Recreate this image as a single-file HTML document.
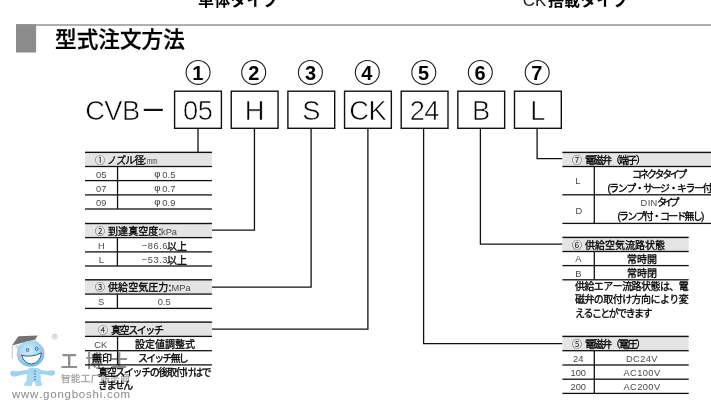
<!DOCTYPE html>
<html lang="ja"><head><meta charset="utf-8"><title>型式注文方法</title><style>
html,body{margin:0;padding:0;background:#fff}
#page{will-change:transform;position:relative;width:711px;height:414px;overflow:hidden;background:#fff;font-family:"Liberation Sans",sans-serif;font-kerning:none}
.b{position:absolute;box-sizing:border-box}
.t{position:absolute;white-space:nowrap;line-height:1.2;font-family:"Liberation Sans",sans-serif}
.g{position:absolute;overflow:visible;display:block}
.g text{font-family:"Liberation Sans","Noto Sans CJK JP",sans-serif}
.g text.sc{font-family:"Liberation Sans","Noto Sans CJK SC",sans-serif}
</style></head>
<body><div id="page">
<svg class="g" style="left:0;top:326px" width="70" height="70" viewBox="0 326 70 70" aria-hidden="true">
<g transform="translate(-0.8 0.6)"><defs><radialGradient id="hd" cx="45%" cy="40%" r="65%"><stop offset="0" stop-color="#d6f0fc"/><stop offset="0.6" stop-color="#9fd6f3"/><stop offset="1" stop-color="#5fb4e4"/></radialGradient></defs>
<path d="M13 345V358" stroke="#aaa" stroke-width="0.7" fill="none"/>
<path d="M14.5 345.6L36.5 339.2L40.5 342.5L19 349Z" fill="#dcdcdc"/>
<path d="M12.7 345L19.2 335.7L38.4 334.9L36.2 339Z" fill="#737373"/>
<path d="M29.5 369.5C24 369 19 371.500 15.500 370.500C12 369 10 372 11.500 374.500C13 377 17 376 20 375C24 373.500 27 373.500 29.500 373.500Z" fill="#9bd3f1"/>
<path d="M39.5 369.500C44 369 48 371 51 370C54.500 368.500 57 371 55.500 373.500C54 376 50.500 375 48 374.200C45 373.300 42 373.500 39.500 373.500Z" fill="#9bd3f1"/>
<path d="M28.500 368.500Q34.500 366 41 368.500L41.800 381C43.500 383.500 43 385.500 40 385.500L36.500 385.400L35.600 381.500L33.500 381.500L32.500 385.400L27 385.500C24 385.500 24.500 383 27 381Z" fill="#a6d9f4"/>
<path d="M34.6 370.500h2.200M34.600 373.300h2.200M34.600 376.100h2.200M34.600 378.900h2.200" stroke="#4a86b0" stroke-width="0.9" fill="none"/>
<ellipse cx="31.4" cy="353.2" rx="13.9" ry="13" fill="url(#hd)"/>
<circle cx="20.9" cy="354.6" r="2" fill="#f5a3c0" opacity="0.9"/><circle cx="42.6" cy="352" r="2" fill="#f5a3c0" opacity="0.9"/>
<ellipse cx="28.4" cy="349.4" rx="1.4" ry="1.7" fill="#9bd3f1" stroke="#2d4f75" stroke-width="0.7"/>
<ellipse cx="37.4" cy="348.2" rx="1.4" ry="1.7" fill="#9bd3f1" stroke="#2d4f75" stroke-width="0.7"/>
<path d="M22.400 354.600Q32 357.300 42.300 352.300Q41 362.300 32.400 363.400Q24.800 363 22.400 354.600Z" fill="#fff" stroke="#2a5f92" stroke-width="1" stroke-linejoin="round"/>
</g><circle cx="54.7" cy="336.7" r="2.5" fill="none" stroke="#9a9a9a" stroke-width="0.5"/>
<path d="M53.900 338V335.400H55Q55.700 335.500 55.600 336.100Q55.500 336.700 54.900 336.700H53.900M54.900 336.700L55.700 338" fill="none" stroke="#9a9a9a" stroke-width="0.4"/>
</svg>
<svg class="g" style="left:60.4px;top:349.8px" width="69.6" height="20.4" viewBox="0 -17 69.6 20.4" role="img" aria-label="工博士"><title>工博士</title><text class="sc" x="0.8" y="0" font-size="17" font-weight="bold" fill="#8a8a8a" opacity="0.95" letter-spacing="8">工博士</text></svg>
<svg class="g" style="left:61px;top:372.8px" width="69.8" height="11.3" viewBox="0 -9.4 69.8 11.3" role="img" aria-label="智能工厂服务商"><title>智能工厂服务商</title><text class="sc" x="0" y="0" font-size="9.6" font-weight="bold" fill="#ababab" textLength="68.8">智能工厂服务商</text></svg>
<span class="t " style="left:12px;top:388px;font-size:11.5px;color:#8a8a8a;letter-spacing:0.75px;">www.gongboshi.com</span>
<svg class="g" style="left:0;top:0" width="711" height="414" viewBox="0 0 711 414" aria-hidden="true"><rect x="16" y="24.3" width="695" height="1.4" fill="#8e8e8e"/><rect x="16" y="24.3" width="20.1" height="28.2" fill="#8c8c8c"/><rect x="143.8" y="108.8" width="19" height="2.2" fill="#111"/><rect x="174.6" y="91.2" width="46.8" height="37.1" fill="none" stroke="#111" stroke-width="1.4"/><circle cx="198.1" cy="72.4" r="11.95" fill="none" stroke="#1a1a2a" stroke-width="1.1"/><text x="197.8" y="79.7" font-size="20" font-weight="bold" fill="#000" text-anchor="middle">1</text><rect x="231.25" y="91.2" width="46.8" height="37.1" fill="none" stroke="#111" stroke-width="1.4"/><circle cx="253.7" cy="72.4" r="11.95" fill="none" stroke="#1a1a2a" stroke-width="1.1"/><rect x="287.9" y="91.2" width="46.8" height="37.1" fill="none" stroke="#111" stroke-width="1.4"/><circle cx="310.4" cy="72.4" r="11.95" fill="none" stroke="#1a1a2a" stroke-width="1.1"/><rect x="344.55" y="91.2" width="46.8" height="37.1" fill="none" stroke="#111" stroke-width="1.4"/><circle cx="367.3" cy="72.4" r="11.95" fill="none" stroke="#1a1a2a" stroke-width="1.1"/><rect x="401.2" y="91.2" width="46.8" height="37.1" fill="none" stroke="#111" stroke-width="1.4"/><circle cx="423.8" cy="72.4" r="11.95" fill="none" stroke="#1a1a2a" stroke-width="1.1"/><rect x="457.85" y="91.2" width="46.8" height="37.1" fill="none" stroke="#111" stroke-width="1.4"/><circle cx="480.3" cy="72.4" r="11.95" fill="none" stroke="#1a1a2a" stroke-width="1.1"/><rect x="514.5" y="91.2" width="46.8" height="37.1" fill="none" stroke="#111" stroke-width="1.4"/><circle cx="537.2" cy="72.4" r="11.95" fill="none" stroke="#1a1a2a" stroke-width="1.1"/><rect x="197.35" y="128.5" width="1.3" height="23.8" fill="#111"/><path d="M254.45 128.5V230.2H211.9" fill="none" stroke="#111" stroke-width="1.3"/><path d="M311.1 128.5V287.1H211.9" fill="none" stroke="#111" stroke-width="1.3"/><path d="M367.9 128.5V329.1H211.9" fill="none" stroke="#111" stroke-width="1.3"/><path d="M423.6 128.5V343.7H562.4" fill="none" stroke="#111" stroke-width="1.3"/><path d="M480.4 128.5V244.1H562.4" fill="none" stroke="#111" stroke-width="1.3"/><path d="M537.1 128.5V158.7H562.4" fill="none" stroke="#111" stroke-width="1.3"/><rect x="85" y="152.35" width="126.9" height="14.15" fill="#e4e4e4"/><rect x="85" y="151.65" width="126.9" height="1.4" fill="#111"/><rect x="85" y="165.85" width="126.9" height="1.3" fill="#111"/><rect x="85" y="179.95" width="126.9" height="1.3" fill="#111"/><rect x="85" y="194.25" width="126.9" height="1.3" fill="#111"/><rect x="85" y="208.35" width="126.9" height="1.3" fill="#111"/><rect x="116.9" y="166.5" width="1.3" height="42.5" fill="#111"/><rect x="85" y="223.5" width="126.9" height="14.1" fill="#e4e4e4"/><rect x="85" y="222.8" width="126.9" height="1.4" fill="#111"/><rect x="85" y="236.95" width="126.9" height="1.3" fill="#111"/><rect x="85" y="251.25" width="126.9" height="1.3" fill="#111"/><rect x="85" y="265.35" width="126.9" height="1.3" fill="#111"/><rect x="116.75" y="237.6" width="1.3" height="28.4" fill="#111"/><rect x="85" y="279.8" width="126.9" height="14.3" fill="#e4e4e4"/><rect x="85" y="279.1" width="126.9" height="1.4" fill="#111"/><rect x="85" y="293.45" width="126.9" height="1.3" fill="#111"/><rect x="85" y="307.75" width="126.9" height="1.3" fill="#111"/><rect x="116.75" y="294.1" width="1.3" height="14.3" fill="#111"/><rect x="85" y="322.1" width="126.9" height="14.3" fill="#e4e4e4"/><rect x="85" y="321.4" width="126.9" height="1.4" fill="#111"/><rect x="85" y="335.75" width="126.9" height="1.3" fill="#111"/><rect x="85" y="350.05" width="126.9" height="1.3" fill="#111"/><rect x="85" y="364.25" width="126.9" height="1.3" fill="#111"/><rect x="116.9" y="336.4" width="1.3" height="28.5" fill="#111"/><rect x="562.4" y="152.4" width="167.6" height="14.1" fill="#e4e4e4"/><rect x="562.4" y="151.7" width="167.6" height="1.4" fill="#111"/><rect x="562.4" y="165.85" width="167.6" height="1.3" fill="#111"/><rect x="562.4" y="194.15" width="167.6" height="1.3" fill="#111"/><rect x="562.4" y="222.75" width="167.6" height="1.3" fill="#111"/><rect x="593.65" y="166.5" width="1.3" height="56.9" fill="#111"/><rect x="562.4" y="237.4" width="126.3" height="14.1" fill="#e4e4e4"/><rect x="562.4" y="236.7" width="126.3" height="1.4" fill="#111"/><rect x="562.4" y="250.85" width="126.3" height="1.3" fill="#111"/><rect x="562.4" y="264.95" width="126.3" height="1.3" fill="#111"/><rect x="562.4" y="279.15" width="126.3" height="1.3" fill="#111"/><rect x="593.65" y="251.5" width="1.3" height="28.3" fill="#111"/><rect x="562.4" y="336.4" width="126.3" height="14.3" fill="#e4e4e4"/><rect x="562.4" y="335.7" width="126.3" height="1.4" fill="#111"/><rect x="562.4" y="350.05" width="126.3" height="1.3" fill="#111"/><rect x="562.4" y="364.35" width="126.3" height="1.3" fill="#111"/><rect x="562.4" y="378.55" width="126.3" height="1.3" fill="#111"/><rect x="562.4" y="392.75" width="126.3" height="1.3" fill="#111"/><rect x="593.65" y="350.7" width="1.3" height="42.7" fill="#111"/></svg>
<svg class="g" style="left:198px;top:-10.1px" width="81.6" height="19.2" viewBox="0 -16 81.6 19.2" role="img" aria-label="単体タイプ"><title>単体タイプ</title><text x="0" y="0" font-size="16" font-weight="bold" fill="#000" textLength="80.6">単体タイプ</text></svg>
<span class="t " style="left:522.8px;top:-9px;font-size:17px;color:#222;">CK</span>
<svg class="g" style="left:548.2px;top:-10.1px" width="81.4" height="19.2" viewBox="0 -16 81.4 19.2" role="img" aria-label="搭載タイプ"><title>搭載タイプ</title><text x="0" y="0" font-size="16" font-weight="bold" fill="#000" textLength="80.4">搭載タイプ</text></svg>
<svg class="g" style="left:54.5px;top:26.1px" width="130.8" height="24.8" viewBox="0 -20.7 130.8 24.8" role="img" aria-label="型式注文方法"><title>型式注文方法</title><text x="0" y="0" font-size="21.6" font-weight="500" fill="#000" stroke="#000" stroke-width="0.3" textLength="129.8">型式注文方法</text></svg>
<span class="t big" style="left:85.2px;top:95px;font-size:27.3px;color:#000;letter-spacing:-0.60px;-webkit-text-stroke:0.6px #fff;">CVB</span>
<span class="t big" style="left:183.1px;top:95px;font-size:27.3px;color:#000;letter-spacing:-0.60px;-webkit-text-stroke:0.6px #fff;">05</span>
<span class="t big" style="left:244.8px;top:95px;font-size:27.3px;color:#000;-webkit-text-stroke:0.6px #fff;">H</span>
<svg class="g" style="left:247.8px;top:59.9px" width="12.8" height="24" viewBox="0 -20 12.8 24" role="img" aria-label="(2)"><title>(2)</title><text x="5.8" y="0" font-size="20" font-weight="bold" fill="#000" text-anchor="middle">2</text></svg>
<span class="t big" style="left:302.2px;top:95px;font-size:27.3px;color:#000;-webkit-text-stroke:0.6px #fff;">S</span>
<svg class="g" style="left:304.5px;top:59.9px" width="12.8" height="24" viewBox="0 -20 12.8 24" role="img" aria-label="(3)"><title>(3)</title><text x="5.6" y="0" font-size="20" font-weight="bold" fill="#000" text-anchor="middle">3</text></svg>
<span class="t big" style="left:349.3px;top:95px;font-size:27.3px;color:#000;letter-spacing:-0.60px;-webkit-text-stroke:0.6px #fff;">CK</span>
<svg class="g" style="left:361.4px;top:59.9px" width="12.8" height="24" viewBox="0 -20 12.8 24" role="img" aria-label="(4)"><title>(4)</title><text x="5.8" y="0" font-size="20" font-weight="bold" fill="#000" text-anchor="middle">4</text></svg>
<span class="t big" style="left:409.7px;top:95px;font-size:27.3px;color:#000;letter-spacing:-0.60px;-webkit-text-stroke:0.6px #fff;">24</span>
<svg class="g" style="left:417.9px;top:59.9px" width="12.8" height="24" viewBox="0 -20 12.8 24" role="img" aria-label="(5)"><title>(5)</title><text x="5.6" y="0" font-size="20" font-weight="bold" fill="#000" text-anchor="middle">5</text></svg>
<span class="t big" style="left:472.1px;top:95px;font-size:27.3px;color:#000;-webkit-text-stroke:0.6px #fff;">B</span>
<svg class="g" style="left:474.4px;top:59.9px" width="12.8" height="24" viewBox="0 -20 12.8 24" role="img" aria-label="(6)"><title>(6)</title><text x="6" y="0" font-size="20" font-weight="bold" fill="#000" text-anchor="middle">6</text></svg>
<span class="t big" style="left:530.3px;top:95px;font-size:27.3px;color:#000;-webkit-text-stroke:0.6px #fff;">L</span>
<svg class="g" style="left:531.3px;top:59.9px" width="12.8" height="24" viewBox="0 -20 12.8 24" role="img" aria-label="(7)"><title>(7)</title><text x="5.9" y="0" font-size="20" font-weight="bold" fill="#000" text-anchor="middle">7</text></svg>
<svg class="g" style="left:95.1px;top:153.6px" width="11" height="12" viewBox="0 -10 11 12" role="img" aria-label="①"><title>①</title><text x="0" y="0" font-size="10" fill="#1c1c2c">①</text></svg>
<svg class="g" style="left:107px;top:153.6px" width="40.4" height="12" viewBox="0 -10 40.4 12" role="img" aria-label="ノズル径:"><title>ノズル径:</title><text x="0" y="0" font-size="10" fill="#000" stroke="#000" stroke-width="0.3" textLength="39.4">ノズル径:</text></svg>
<span class="t " style="left:146.7px;top:156px;font-size:9.3px;color:#484848;transform:scaleX(0.68);transform-origin:0 50%;">mm</span>
<span class="t " style="left:96px;top:170px;font-size:9.3px;color:#484848;">05</span>
<svg class="g" style="left:154.2px;top:168px" width="9.1" height="10.8" viewBox="0 -9 9.1 10.8" role="img" aria-label="φ"><title>φ</title><text x="0.3" y="0" font-size="9.5" fill="#2a2a2a">φ</text></svg>
<span class="t " style="left:162.2px;top:170px;font-size:9.3px;color:#484848;letter-spacing:0.20px;">0.5</span>
<span class="t " style="left:96px;top:184px;font-size:9.3px;color:#484848;">07</span>
<svg class="g" style="left:154.2px;top:182.1px" width="9.1" height="10.8" viewBox="0 -9 9.1 10.8" role="img" aria-label="φ"><title>φ</title><text x="0.3" y="0" font-size="9.5" fill="#2a2a2a">φ</text></svg>
<span class="t " style="left:162.2px;top:184px;font-size:9.3px;color:#484848;letter-spacing:0.20px;">0.7</span>
<span class="t " style="left:96px;top:198px;font-size:9.3px;color:#484848;">09</span>
<svg class="g" style="left:154.2px;top:196.2px" width="9.1" height="10.8" viewBox="0 -9 9.1 10.8" role="img" aria-label="φ"><title>φ</title><text x="0.3" y="0" font-size="9.5" fill="#2a2a2a">φ</text></svg>
<span class="t " style="left:162.2px;top:198px;font-size:9.3px;color:#484848;letter-spacing:0.20px;">0.9</span>
<svg class="g" style="left:95.1px;top:225px" width="11" height="12" viewBox="0 -10 11 12" role="img" aria-label="②"><title>②</title><text x="0" y="0" font-size="10" fill="#1c1c2c">②</text></svg>
<svg class="g" style="left:107.5px;top:225px" width="54.2" height="12" viewBox="0 -10 54.2 12" role="img" aria-label="到達真空度:"><title>到達真空度:</title><text x="0" y="0" font-size="10" fill="#000" stroke="#000" stroke-width="0.3" textLength="53.2">到達真空度:</text></svg>
<span class="t " style="left:161px;top:227px;font-size:9.3px;color:#484848;">kPa</span>
<span class="t " style="left:98px;top:241px;font-size:9.3px;color:#484848;">H</span>
<span class="t " style="left:141.8px;top:241px;font-size:9.3px;color:#484848;letter-spacing:0.55px;">−86.6</span>
<svg class="g" style="left:167.4px;top:239.7px" width="21" height="12" viewBox="0 -10 21 12" role="img" aria-label="以上"><title>以上</title><text x="0" y="0" font-size="10" fill="#000" stroke="#000" stroke-width="0.3" textLength="20">以上</text></svg>
<span class="t " style="left:98.8px;top:255px;font-size:9.3px;color:#484848;">L</span>
<span class="t " style="left:141.8px;top:255px;font-size:9.3px;color:#484848;letter-spacing:0.55px;">−53.3</span>
<svg class="g" style="left:167.4px;top:253.8px" width="21" height="12" viewBox="0 -10 21 12" role="img" aria-label="以上"><title>以上</title><text x="0" y="0" font-size="10" fill="#000" stroke="#000" stroke-width="0.3" textLength="20">以上</text></svg>
<svg class="g" style="left:95.1px;top:281.3px" width="11" height="12" viewBox="0 -10 11 12" role="img" aria-label="③"><title>③</title><text x="0" y="0" font-size="10" fill="#1c1c2c">③</text></svg>
<svg class="g" style="left:108px;top:281.3px" width="64.2" height="12" viewBox="0 -10 64.2 12" role="img" aria-label="供給空気圧力:"><title>供給空気圧力:</title><text x="0" y="0" font-size="10" fill="#000" stroke="#000" stroke-width="0.3" textLength="63.2">供給空気圧力:</text></svg>
<span class="t " style="left:171.5px;top:283px;font-size:9.3px;color:#484848;">MPa</span>
<span class="t " style="left:98.1px;top:297px;font-size:9.3px;color:#484848;">S</span>
<span class="t " style="left:157.7px;top:297px;font-size:9.3px;color:#484848;">0.5</span>
<svg class="g" style="left:98.4px;top:323.6px" width="11" height="12" viewBox="0 -10 11 12" role="img" aria-label="④"><title>④</title><text x="0" y="0" font-size="10" fill="#1c1c2c">④</text></svg>
<svg class="g" style="left:110.8px;top:323.6px" width="53.9" height="12" viewBox="0 -10 53.9 12" role="img" aria-label="真空スイッチ"><title>真空スイッチ</title><text x="0" y="0" font-size="10" fill="#000" stroke="#000" stroke-width="0.3" textLength="52.9">真空スイッチ</text></svg>
<span class="t " style="left:94.3px;top:340px;font-size:9.3px;color:#484848;">CK</span>
<svg class="g" style="left:135.4px;top:337.8px" width="61" height="12" viewBox="0 -10 61 12" role="img" aria-label="設定値調整式"><title>設定値調整式</title><text x="0" y="0" font-size="10" fill="#000" stroke="#000" stroke-width="0.3" textLength="60">設定値調整式</text></svg>
<svg class="g" style="left:91.6px;top:352px" width="21" height="12" viewBox="0 -10 21 12" role="img" aria-label="無印"><title>無印</title><text x="0" y="0" font-size="10" fill="#000" stroke="#000" stroke-width="0.3" textLength="20">無印</text></svg>
<svg class="g" style="left:137.5px;top:352px" width="51.8" height="12" viewBox="0 -10 51.8 12" role="img" aria-label="スイッチ無し"><title>スイッチ無し</title><text x="0" y="0" font-size="10" fill="#000" stroke="#000" stroke-width="0.3" textLength="50.8">スイッチ無し</text></svg>
<svg class="g" style="left:98.4px;top:365.6px" width="114.5" height="12" viewBox="0 -10 114.5 12" role="img" aria-label="真空スイッチの後取付けはで"><title>真空スイッチの後取付けはで</title><text x="0" y="0" font-size="10" fill="#000" stroke="#000" stroke-width="0.3" textLength="113.5">真空スイッチの後取付けはで</text></svg>
<svg class="g" style="left:98.4px;top:378.6px" width="36.2" height="12" viewBox="0 -10 36.2 12" role="img" aria-label="きません"><title>きません</title><text x="0" y="0" font-size="10" fill="#000" stroke="#000" stroke-width="0.3" textLength="35.2">きません</text></svg>
<svg class="g" style="left:572px;top:153.7px" width="11" height="12" viewBox="0 -10 11 12" role="img" aria-label="⑦"><title>⑦</title><text x="0" y="0" font-size="10" fill="#1c1c2c">⑦</text></svg>
<svg class="g" style="left:584.9px;top:153.7px" width="62" height="12" viewBox="0 -10 62 12" role="img" aria-label="電磁弁（端子）"><title>電磁弁（端子）</title><text x="0" y="0" font-size="10" fill="#000" stroke="#000" stroke-width="0.3" textLength="61">電磁弁（端子）</text></svg>
<span class="t " style="left:575.2px;top:176px;font-size:9.3px;color:#484848;">L</span>
<span class="t " style="left:575.5px;top:206px;font-size:9.3px;color:#484848;">D</span>
<svg class="g" style="left:632.2px;top:167.9px" width="56.2" height="12" viewBox="0 -10 56.2 12" role="img" aria-label="コネクタタイプ"><title>コネクタタイプ</title><text x="0" y="0" font-size="10" fill="#000" stroke="#000" stroke-width="0.3" textLength="55.2">コネクタタイプ</text></svg>
<svg class="g" style="left:606.8px;top:182.3px" width="108.7" height="12" viewBox="0 -10 108.7 12" role="img" aria-label="(ランプ・サージ・キラー付)"><title>(ランプ・サージ・キラー付)</title><text x="0.5" y="0" font-size="10" fill="#000" stroke="#000" stroke-width="0.3" textLength="106.7">(ランプ・サージ・キラー付)</text></svg>
<span class="t " style="left:640.6px;top:198px;font-size:9.3px;color:#484848;letter-spacing:0.35px;">DIN</span>
<svg class="g" style="left:657.2px;top:195.8px" width="23.4" height="12" viewBox="0 -10 23.4 12" role="img" aria-label="タイプ"><title>タイプ</title><text x="0" y="0" font-size="10" fill="#000" stroke="#000" stroke-width="0.3" textLength="22.4">タイプ</text></svg>
<svg class="g" style="left:616.5px;top:209.5px" width="88.8" height="12" viewBox="0 -10 88.8 12" role="img" aria-label="(ランプ付・コード無し)"><title>(ランプ付・コード無し)</title><text x="0.5" y="0" font-size="10" fill="#000" stroke="#000" stroke-width="0.3" textLength="86.8">(ランプ付・コード無し)</text></svg>
<svg class="g" style="left:572.4px;top:238.5px" width="11" height="12" viewBox="0 -10 11 12" role="img" aria-label="⑥"><title>⑥</title><text x="0" y="0" font-size="10" fill="#1c1c2c">⑥</text></svg>
<svg class="g" style="left:585.3px;top:238.5px" width="81" height="12" viewBox="0 -10 81 12" role="img" aria-label="供給空気流路状態"><title>供給空気流路状態</title><text x="0" y="0" font-size="10" fill="#000" stroke="#000" stroke-width="0.3" textLength="80">供給空気流路状態</text></svg>
<span class="t " style="left:575.3px;top:254px;font-size:9.3px;color:#484848;">A</span>
<span class="t " style="left:575.3px;top:269px;font-size:9.3px;color:#484848;">B</span>
<svg class="g" style="left:626.8px;top:252.8px" width="31" height="12" viewBox="0 -10 31 12" role="img" aria-label="常時開"><title>常時開</title><text x="0" y="0" font-size="10" fill="#000" stroke="#000" stroke-width="0.3" textLength="30">常時開</text></svg>
<svg class="g" style="left:626.8px;top:267px" width="31" height="12" viewBox="0 -10 31 12" role="img" aria-label="常時閉"><title>常時閉</title><text x="0" y="0" font-size="10" fill="#000" stroke="#000" stroke-width="0.3" textLength="30">常時閉</text></svg>
<svg class="g" style="left:575px;top:280.4px" width="114.8" height="12" viewBox="0 -10 114.8 12" role="img" aria-label="供給エアー流路状態は、電"><title>供給エアー流路状態は、電</title><text x="0" y="0" font-size="10" fill="#000" stroke="#000" stroke-width="0.3" textLength="113.8">供給エアー流路状態は、電</text></svg>
<svg class="g" style="left:575px;top:293.4px" width="114.8" height="12" viewBox="0 -10 114.8 12" role="img" aria-label="磁弁の取付け方向により変"><title>磁弁の取付け方向により変</title><text x="0" y="0" font-size="10" fill="#000" stroke="#000" stroke-width="0.3" textLength="113.8">磁弁の取付け方向により変</text></svg>
<svg class="g" style="left:575px;top:306.6px" width="78.5" height="12" viewBox="0 -10 78.5 12" role="img" aria-label="えることができます"><title>えることができます</title><text x="0" y="0" font-size="10" fill="#000" stroke="#000" stroke-width="0.3" textLength="77.5">えることができます</text></svg>
<svg class="g" style="left:572.4px;top:337.9px" width="11" height="12" viewBox="0 -10 11 12" role="img" aria-label="⑤"><title>⑤</title><text x="0" y="0" font-size="10" fill="#1c1c2c">⑤</text></svg>
<svg class="g" style="left:585.3px;top:337.9px" width="62" height="12" viewBox="0 -10 62 12" role="img" aria-label="電磁弁（電圧）"><title>電磁弁（電圧）</title><text x="0" y="0" font-size="10" fill="#000" stroke="#000" stroke-width="0.3" textLength="61">電磁弁（電圧）</text></svg>
<span class="t " style="left:573.1px;top:354px;font-size:9.3px;color:#484848;">24</span>
<span class="t " style="left:626px;top:354px;font-size:9.3px;color:#484848;letter-spacing:0.40px;">DC24V</span>
<span class="t " style="left:570.5px;top:368px;font-size:9.3px;color:#484848;">100</span>
<span class="t " style="left:623.5px;top:368px;font-size:9.3px;color:#484848;letter-spacing:0.40px;">AC100V</span>
<span class="t " style="left:570.5px;top:382px;font-size:9.3px;color:#484848;">200</span>
<span class="t " style="left:623.5px;top:382px;font-size:9.3px;color:#484848;letter-spacing:0.40px;">AC200V</span>
</div></body></html>
